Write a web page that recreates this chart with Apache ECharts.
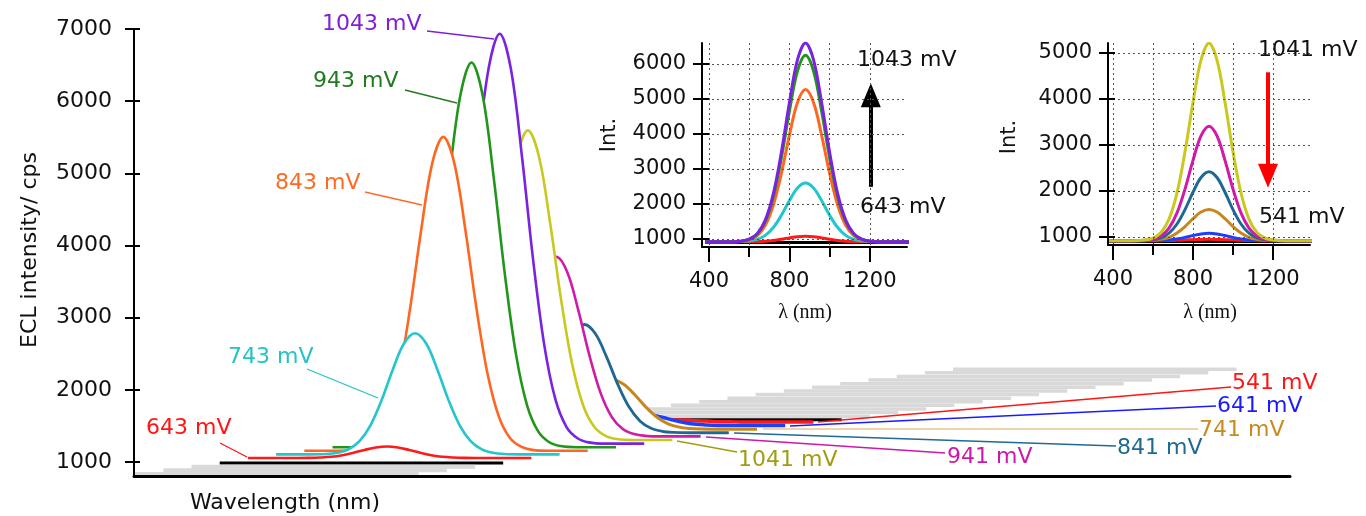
<!DOCTYPE html>
<html>
<head>
<meta charset="utf-8">
<script src="https://cdn.jsdelivr.net/npm/echarts@6/dist/echarts.min.js"></script>
<style>
  html, body { margin: 0; padding: 0; background: #fff; }
  #chart { width: 1366px; height: 516px; }
</style>
</head>
<body>
<div id="chart"></div>
<script>
// wavelength grid (nm) shared by all ECL spectra
const WAVELENGTH = [380, 500, 560, 600, 640, 680, 720, 760, 800, 840, 880, 920, 960, 1000, 1040, 1080, 1120, 1160, 1200, 1260, 1400];

// spectra (cps), anodic scan up to 1043 mV
const ECL_643 = [920, 920, 920, 922, 927, 937, 959, 992, 1032, 1066, 1080, 1066, 1032, 992, 959, 937, 927, 922, 920, 920, 920];
const ECL_743 = [920, 920, 925, 942, 989, 1103, 1327, 1676, 2098, 2457, 2600, 2457, 2098, 1676, 1327, 1103, 989, 942, 925, 920, 920];
const ECL_843 = [920, 920, 933, 977, 1098, 1394, 1973, 2878, 3969, 4900, 5270, 4900, 3969, 2878, 1973, 1394, 1098, 977, 933, 920, 920];
const ECL_943 = [920, 920, 936, 989, 1139, 1501, 2210, 3319, 4656, 5797, 6250, 5797, 4656, 3319, 2210, 1501, 1139, 989, 936, 920, 920];
const ECL_1043 = [920, 920, 937, 994, 1153, 1539, 2295, 3476, 4902, 6117, 6600, 6117, 4902, 3476, 2295, 1539, 1153, 994, 937, 920, 920];
// reverse scan down to 541 mV
const ECL_1041 = [920, 920, 933, 976, 1096, 1388, 1958, 2851, 3927, 4845, 5210, 4845, 3927, 2851, 1958, 1388, 1096, 976, 933, 920, 920];
const ECL_941 = [920, 920, 927, 952, 1022, 1191, 1523, 2041, 2665, 3198, 3410, 3198, 2665, 2041, 1523, 1191, 1022, 952, 927, 920, 920];
const ECL_841 = [920, 920, 925, 940, 982, 1084, 1283, 1595, 1972, 2293, 2420, 2293, 1972, 1595, 1283, 1084, 982, 940, 925, 920, 920];
const ECL_741 = [920, 920, 922, 929, 948, 994, 1085, 1226, 1397, 1542, 1600, 1542, 1397, 1226, 1085, 994, 948, 929, 922, 920, 920];
const ECL_641 = [920, 920, 920, 922, 927, 937, 959, 992, 1032, 1066, 1080, 1066, 1032, 992, 959, 937, 927, 922, 920, 920, 920];
const ECL_541 = [920, 920, 920, 920, 921, 923, 927, 934, 941, 947, 950, 947, 941, 934, 927, 923, 921, 920, 920, 920, 920];
// dark baseline
const BLANK_NM = [380, 1400];
const BLANK = [900, 900];

const MAIN_Y_TICKS = [1000, 2000, 3000, 4000, 5000, 6000, 7000];
const INSET1_Y_TICKS = [1000, 2000, 3000, 4000, 5000, 6000];
const INSET2_Y_TICKS = [1000, 2000, 3000, 4000, 5000];
const INSET_X_LABELS = [400, 800, 1200];
const INSET_X_MINOR = [600, 1000];

// waterfall step of each trace, front (-1) to back (11); grey floor traces around them
const FLOOR_STEPS = [-4, -3, -2, 12, 13, 14, 15, 16, 17, 18, 19, 20, 21, 22, 23, 24, 25];

const FONT = 'DejaVu Sans';
const X0 = 30, X_STEP = 101.5, Y0 = 135, Y_STEP = 50;

const TRACES = [
    { name: 'blank', nm: BLANK_NM, v: BLANK, color: '#000000', step: -1, w: 3 },
    { name: '643 mV', nm: WAVELENGTH, v: ECL_643, color: '#ff1a1a', step: 0, w: 2.6 },
    { name: '743 mV', nm: WAVELENGTH, v: ECL_743, color: '#22c6cc', step: 1, w: 2.6 },
    { name: '843 mV', nm: WAVELENGTH, v: ECL_843, color: '#ff6622', step: 2, w: 2.6 },
    { name: '943 mV', nm: WAVELENGTH, v: ECL_943, color: '#22961c', step: 3, w: 2.6 },
    { name: '1043 mV', nm: WAVELENGTH, v: ECL_1043, color: '#7a22e0', step: 4, w: 2.6 },
    { name: '1041 mV', nm: WAVELENGTH, v: ECL_1041, color: '#c8c820', step: 5, w: 2.6 },
    { name: '941 mV', nm: WAVELENGTH, v: ECL_941, color: '#d01aa8', step: 6, w: 2.6 },
    { name: '841 mV', nm: WAVELENGTH, v: ECL_841, color: '#1f6896', step: 7, w: 2.8 },
    { name: '741 mV', nm: WAVELENGTH, v: ECL_741, color: '#c8861e', step: 8, w: 3 },
    { name: '641 mV', nm: WAVELENGTH, v: ECL_641, color: '#1a40ff', step: 9, w: 3.5 },
    { name: '541 mV', nm: WAVELENGTH, v: ECL_541, color: '#ff1a1a', step: 10, w: 3.5 },
    { name: 'blank', nm: BLANK_NM, v: BLANK, color: '#000000', step: 11, w: 3 },
];

// callouts: text, colour, text left/middle (px), leader line
const MAIN_LABELS = [
    ['1043 mV', '#7f1fd9', 322, 24, [427, 31, 494, 39]],
    ['943 mV', '#217a21', 313, 81, [405, 90, 457, 103]],
    ['843 mV', '#ff6a21', 275, 183, [365, 192, 422, 205]],
    ['743 mV', '#22c4c4', 228, 357, [307, 369, 378, 398]],
    ['643 mV', '#ff1515', 146, 428, [220, 443, 247, 457]],
    ['541 mV', '#ff1515', 1232, 383, [818, 422, 1231, 387]],
    ['641 mV', '#1a1aff', 1217, 406, [790, 426, 1216, 406]],
    ['741 mV', '#c98a1f', 1199, 430, [763, 429, 1198, 429], '#e6c48c'],
    ['841 mV', '#1f6995', 1117, 448, [734, 433, 1116, 446]],
    ['941 mV', '#cc18a8', 947, 457, [706, 437, 945, 453]],
    ['1041 mV', '#a39c12', 738, 460, [677, 441, 737, 452]],
];

const byName = n => TRACES.find(t => t.name === n && t.step >= 0);

function waterfall(nm, vals, step) {
    return nm.map((w, i) => [w + X0 + X_STEP * step, vals[i] + Y0 + Y_STEP * step]);
}

let zOrder = 2;
function line(data, color, width, xi, yi, fill) {
    const s = {
        type: 'line', data, xAxisIndex: xi, yAxisIndex: yi, z: zOrder++,
        showSymbol: false, smooth: 0.35, silent: true, clip: true,
        lineStyle: { color, width },
    };
    if (fill) s.areaStyle = { color: '#ffffff', opacity: 1, origin: 'start' };
    return s;
}

const series = [];

// main waterfall, back to front so front traces (white filled) hide what is behind
FLOOR_STEPS.filter(k => k > 11).sort((a, b) => b - a)
    .forEach(k => series.push(line(waterfall(BLANK_NM, BLANK, k), '#d9d9d9', 3.5, 0, 0, false)));
[...TRACES].sort((a, b) => b.step - a.step).forEach(t => {
    series.push(line(waterfall(t.nm, t.v, t.step), t.color, t.w, 0, 0, true));
});
FLOOR_STEPS.filter(k => k < -1).sort((a, b) => b - a)
    .forEach(k => series.push(line(waterfall(BLANK_NM, BLANK, k), '#d9d9d9', 4, 0, 0, false)));

// insets
const insetSeries = (names, xi, yi) => names.map(n => {
    const t = n === 'blank' ? TRACES[0] : byName(n);
    return line(t.nm.map((w, i) => [w, t.v[i]]), t.color, 3, xi, yi, false);
});
const inset1 = insetSeries(['blank', '643 mV', '743 mV', '843 mV', '943 mV', '1043 mV'], 1, 2);
const inset2 = insetSeries(['blank', '541 mV', '641 mV', '741 mV', '841 mV', '941 mV', '1041 mV'], 3, 4);

const arrow = (color, from, to) => ({
    silent: true, symbol: ['none', 'triangle'], symbolSize: [20, 24],
    label: { show: false }, lineStyle: { color, width: 4, type: 'solid' },
    data: [[{ coord: from }, { coord: to }]],
});
inset1[inset1.length - 1].markLine = arrow('#000000', [1205, 2490], [1205, 5110]);
inset2[inset2.length - 1].markLine = arrow('#ff0000', [1175, 4580], [1175, 2330]);
series.push(...inset1, ...inset2);

const dotted = { show: true, lineStyle: { color: '#555', width: 1, type: [2, 3] } };
const tickStyle = { color: '#000', width: 2 };
const plain = v => String(v);

function insetAxes(grid, xMin, yMin, yMax, yTicks) {
    const x = [
        {
            gridIndex: grid, type: 'value', min: xMin, max: 1385, position: 'bottom', z: 150,
            axisLine: { show: true, onZero: false, lineStyle: { color: '#000', width: 2 } },
            axisTick: { show: true, length: 15, customValues: INSET_X_LABELS, lineStyle: tickStyle },
            axisLabel: { show: true, customValues: INSET_X_LABELS, formatter: plain, margin: 24, fontSize: 21, color: '#111', fontFamily: FONT },
            splitLine: dotted,
        },
        {
            gridIndex: grid, type: 'value', min: xMin, max: 1385, position: 'bottom', z: 150,
            axisLine: { show: false, onZero: false },
            axisTick: { show: true, length: 10, customValues: INSET_X_MINOR, lineStyle: tickStyle },
            axisLabel: { show: false },
            splitLine: dotted,
        },
    ];
    const y = [
        {
            gridIndex: grid, type: 'value', min: yMin, max: yMax, position: 'left', z: 150,
            axisLine: { show: true, lineStyle: { color: '#000', width: 2 } },
            axisTick: { show: true, length: 9, customValues: yTicks, lineStyle: tickStyle },
            axisLabel: { show: true, customValues: yTicks, formatter: plain, margin: 16, fontSize: 21, color: '#111', fontFamily: FONT },
            splitLine: dotted,
        },
        {
            gridIndex: grid, type: 'value', min: yMin, max: yMax, position: 'left', z: 150,
            axisLine: { show: false },
            axisTick: { show: true, inside: true, length: 7, customValues: yTicks, lineStyle: tickStyle },
            axisLabel: { show: false }, splitLine: { show: false },
        },
    ];
    return { x, y };
}
const ax1 = insetAxes(1, 365, 771, 6600, INSET1_Y_TICKS);
const ax2 = insetAxes(2, 375, 826, 5217, INSET2_Y_TICKS);

const text = (str, x, y, color, opts = {}) => ({
    type: 'text', x, y, z: 300, rotation: opts.rotation || 0, silent: true,
    style: {
        text: str, fill: color, align: opts.align || 'left', verticalAlign: 'middle',
        font: opts.font || `22px "${FONT}"`,
    },
});
const graphic = [];
MAIN_LABELS.forEach(([str, color, x, y, l, lc]) => {
    graphic.push({
        type: 'line', z: 300, silent: true,
        shape: { x1: l[0], y1: l[1], x2: l[2], y2: l[3] },
        style: { stroke: lc || color, lineWidth: 1.3 },
    });
    graphic.push(text(str, x, y, color));
});
graphic.push(
    text('ECL intensity/ cps', 30, 250, '#111', { align: 'center', rotation: Math.PI / 2 }),
    text('Wavelength (nm)', 190, 503, '#111'),
    text('Int.', 610, 135, '#111', { align: 'center', rotation: Math.PI / 2, font: `21px "${FONT}"` }),
    text('Int.', 1010, 137, '#111', { align: 'center', rotation: Math.PI / 2, font: `21px "${FONT}"` }),
    text('λ (nm)', 805, 313, '#111', { align: 'center', font: '20px "Liberation Serif"' }),
    text('λ (nm)', 1210, 313, '#111', { align: 'center', font: '20px "Liberation Serif"' }),
    text('1043 mV', 857, 60, '#111'),
    text('643 mV', 860, 207, '#111'),
    text('1041 mV', 1258, 50, '#111'),
    text('541 mV', 1259, 217, '#111'),
);

const chart = echarts.init(document.getElementById('chart'));
chart.setOption({
    animation: false,
    backgroundColor: '#ffffff',
    textStyle: { fontFamily: FONT },
    grid: [
        { left: 134, right: 76, top: 29, bottom: 40, containLabel: false, outerBoundsMode: 'none' },
        { left: 702, right: 459, top: 43, bottom: 269, containLabel: false, outerBoundsMode: 'none' },
        { left: 1108, right: 56, top: 43, bottom: 271, containLabel: false, outerBoundsMode: 'none' },
    ],
    xAxis: [
        {
            gridIndex: 0, type: 'value', min: 0, max: 4160, z: 150,
            axisLine: { show: true, onZero: false, lineStyle: { color: '#000', width: 3 } },
            axisTick: { show: false }, axisLabel: { show: false }, splitLine: { show: false },
        },
        ...ax1.x, ...ax2.x,
    ],
    yAxis: [
        {
            gridIndex: 0, type: 'value', min: 806, max: 7000, position: 'left', z: 150,
            axisLine: { show: true, lineStyle: { color: '#000', width: 2 } },
            axisTick: { show: true, length: 9, customValues: MAIN_Y_TICKS, lineStyle: tickStyle },
            axisLabel: { show: true, customValues: MAIN_Y_TICKS, formatter: plain, margin: 22, fontSize: 22, color: '#111', fontFamily: FONT },
            splitLine: { show: false },
        },
        {
            gridIndex: 0, type: 'value', min: 806, max: 7000, position: 'left', z: 150,
            axisLine: { show: false },
            axisTick: { show: true, inside: true, length: 6, customValues: MAIN_Y_TICKS, lineStyle: tickStyle },
            axisLabel: { show: false }, splitLine: { show: false },
        },
        ...ax1.y, ...ax2.y,
    ],
    series,
    graphic,
});
</script>
</body>
</html>
